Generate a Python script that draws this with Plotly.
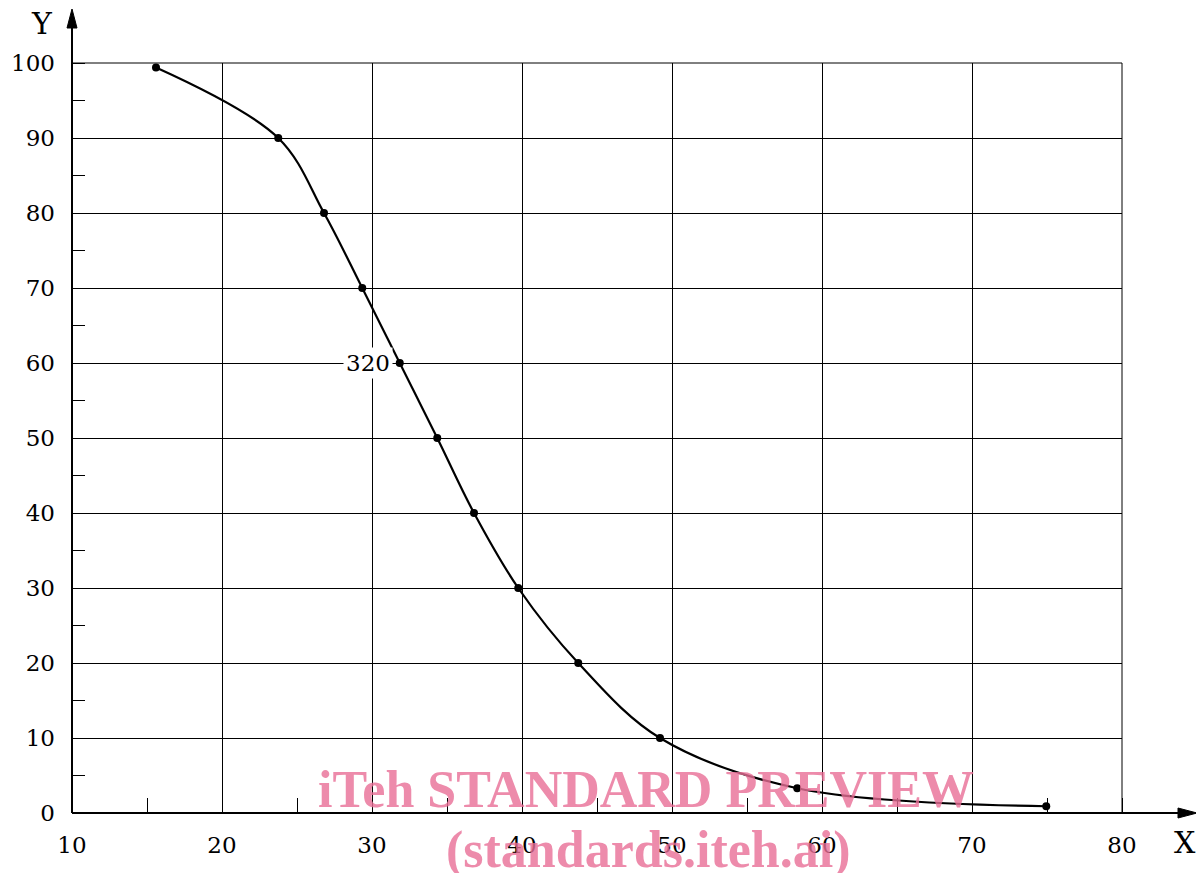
import plotly.graph_objects as go

# data
x_vals = [15.6, 23.75, 26.8, 29.35, 31.85, 34.35, 36.8, 39.75, 43.75, 49.2, 58.35, 74.95]
y_vals = [99.4, 90, 80, 70, 60, 50, 40, 30, 20, 10, 3.3, 0.9]
x_ticks = [10, 20, 30, 40, 50, 60, 70, 80]
y_ticks = [0, 10, 20, 30, 40, 50, 60, 70, 80, 90, 100]
curve_label = "320"
label_x, label_y = 29.75, 60

OFF = 8  # page body margin
W, H = 1204 - 2 * OFF, 881 - 2 * OFF
L, T = 72 - OFF, 63 - OFF
PW, PH = 1050, 750
R, B = W - L - PW, H - T - PH

# screen-pixel -> paper helpers
def px(p):
    return (p - 72) / PW

def py(p):
    return (813 - p) / PH

fig = go.Figure()
fig.add_trace(go.Scatter(
    x=x_vals, y=y_vals, mode="lines+markers",
    line=dict(color="black", width=2.2, shape="spline", smoothing=1.0),
    marker=dict(color="black", size=8),
    showlegend=False, cliponaxis=False, hoverinfo="skip"))

font = dict(family="DejaVu Serif", size=23, color="black")

fig.update_layout(
    width=W, height=H,
    margin=dict(l=L, r=R, t=T, b=B, autoexpand=False),
    paper_bgcolor="white", plot_bgcolor="white",
    xaxis=dict(range=[10, 80], tickvals=x_ticks, ticktext=[str(v) for v in x_ticks],
               showgrid=True, gridcolor="black", gridwidth=1, zeroline=False,
               showline=False, ticks="", tickfont=font, ticklabelstandoff=16,
               automargin=False,
               minor=dict(dtick=5, tick0=10, ticks="inside", ticklen=15, tickcolor="black",
                          tickwidth=1, showgrid=False)),
    yaxis=dict(range=[0, 100], tickvals=y_ticks, ticktext=[str(v) for v in y_ticks],
               showgrid=True, gridcolor="black", gridwidth=1, zeroline=False,
               showline=False, ticks="", tickfont=font, ticklabelstandoff=16,
               automargin=False,
               minor=dict(dtick=5, tick0=0, ticks="inside", ticklen=13, tickcolor="black",
                          tickwidth=1, showgrid=False)),
)

# axes with arrows + edge grid lines
shapes = [
    dict(type="line", xref="paper", yref="paper", x0=1, y0=0, x1=1, y1=1,
         line=dict(color="black", width=1)),
    dict(type="line", xref="paper", yref="paper", x0=0, y0=1, x1=1, y1=1,
         line=dict(color="black", width=1)),
    dict(type="line", xref="paper", yref="paper", x0=0, y0=0, x1=0, y1=py(14),
         line=dict(color="black", width=2)),
    dict(type="line", xref="paper", yref="paper", x0=0, y0=0, x1=px(1190), y1=0,
         line=dict(color="black", width=2)),
    dict(type="path", xref="paper", yref="paper",
         path=f"M {px(72)},{py(9)} L {px(67)},{py(28)} L {px(77)},{py(28)} Z",
         fillcolor="black", line=dict(color="black", width=1)),
    dict(type="path", xref="paper", yref="paper",
         path=f"M {px(1197)},{py(813)} L {px(1178)},{py(808)} L {px(1178)},{py(818)} Z",
         fillcolor="black", line=dict(color="black", width=1)),
]
fig.update_layout(shapes=shapes)

fig.add_annotation(x=label_x, y=label_y, xref="x", yref="y", text=curve_label,
                   showarrow=False, bgcolor="white", font=font, borderpad=2,
                   xanchor="center", yanchor="middle")
fig.add_annotation(x=px(42), y=py(23), xref="paper", yref="paper", text="Y",
                   showarrow=False, xanchor="center", yanchor="middle",
                   font=dict(family="DejaVu Serif", size=30, color="black"))
fig.add_annotation(x=px(1185), y=py(842), xref="paper", yref="paper", text="X",
                   showarrow=False, xanchor="center", yanchor="middle",
                   font=dict(family="DejaVu Serif", size=30, color="black"))

wm_font = dict(family="Liberation Serif", size=52, color="rgba(232,110,150,0.8)")
fig.add_annotation(x=px(646), y=py(820), xref="paper", yref="paper",
                   text="<b>iTeh STANDARD PREVIEW</b>", showarrow=False, font=wm_font,
                   xanchor="center", yanchor="bottom")
fig.add_annotation(x=px(648), y=py(881), xref="paper", yref="paper",
                   text="<b>(standards.iteh.ai)</b>", showarrow=False, font=wm_font,
                   xanchor="center", yanchor="bottom")

fig.write_html("out.html")
